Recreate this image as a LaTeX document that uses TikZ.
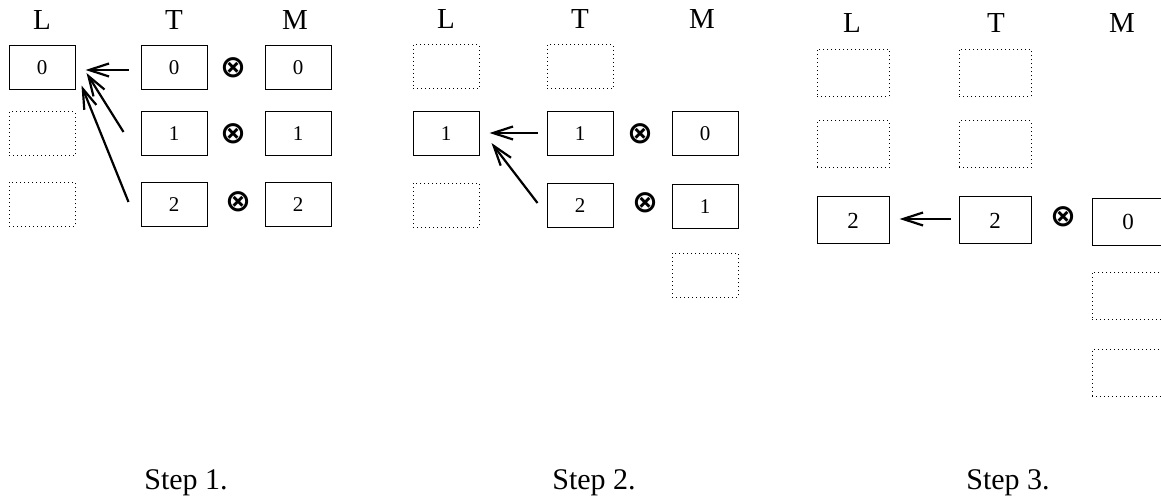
\documentclass[tikz,border=0pt]{standalone}
\usepackage{amsmath}
\usepackage{fontspec}
\setmainfont{Liberation Serif}
\newfontfamily\symfont{DejaVu Sans}
\usepackage{tikz}
\usetikzlibrary{arrows.meta}
\usetikzlibrary{positioning}

\begin{document}
\begin{tikzpicture}[x=1pt,y=1pt,>={Straight Barb[length=20pt,width=13pt]},
                    cell/.style={draw,line width=1pt,minimum width=66pt,minimum height=44pt,inner sep=0pt,font=\fontsize{21}{21}\selectfont},
                    free cell/.style={cell,dash pattern=on 1pt off 3pt},
                    big cell/.style={cell,minimum width=72pt,minimum height=47pt,font=\fontsize{23}{23}\selectfont},
                    big free cell/.style={big cell,dash pattern=on 1pt off 3pt},
                    head/.style={anchor=base,font=\fontsize{29}{29}\selectfont},
                    times/.style={font=\symfont\bfseries\fontsize{31}{31}\selectfont},
                    caption/.style={anchor=base,font=\fontsize{30}{30}\selectfont},
                    link/.style={->,line width=2.2pt}]

  \useasboundingbox (0,0) rectangle (1161,-502);

  % step 1
  \node[head] (l1) at (42,-30) {L};
  \node[head] (t1) at (174,-30) {T};
  \node[head] (m1) at (295,-30) {M};
  \node[cell] (l10) at (42,-68) {0};
  \node[free cell] (l11) [below of=l10, node distance=66pt] {};
  \node[free cell] (l12) [below of=l11, node distance=70.5pt] {};
  \node[cell] (t10) at (174,-68) {0};
  \node[cell] (t11) [below of=t10, node distance=66pt] {1};
  \node[cell] (t12) [below of=t11, node distance=70.5pt] {2};
  \node[cell] (m10) at (298,-68) {0};
  \node[cell] (m11) [below of=m10, node distance=66pt] {1};
  \node[cell] (m12) [below of=m11, node distance=70.5pt] {2};
  \node[times] (x10) at (233,-68) {⊗};
  \node[times] (x11) at (233,-134) {⊗};
  \node[times] (x12) at (238,-202) {⊗};
  \node[caption] (s1) at (186,-489) {Step 1.};

  \path ([xshift=-12pt,yshift=-2pt]t10.west) edge[link] ([xshift=10pt,yshift=-2pt]l10.east)
        ([xshift=-17pt,yshift=2pt]t11.west) edge[link] ([xshift=11pt,yshift=-5pt]l10.east)
        ([xshift=-12pt,yshift=2.5pt]t12.west) edge[link] ([xshift=6pt,yshift=5pt]l10.south east);

  % step 2
  \node[head] (l2) at (446,-29) {L};
  \node[head] (t2) at (580,-29) {T};
  \node[head] (m2) at (702,-29) {M};
  \node[free cell] (l20) at (446,-67) {};
  \node[cell] (l21) [below of=l20, node distance=67pt] {1};
  \node[free cell] (l22) [below of=l21, node distance=71.5pt] {};
  \node[free cell] (t20) at (580,-67) {};
  \node[cell] (t21) [below of=t20, node distance=67pt] {1};
  \node[cell] (t22) [below of=t21, node distance=71.5pt] {2};
  \node[cell] (m20) at (705,-134) {0};
  \node[cell] (m21) [below of=m20, node distance=72.5pt] {1};
  \node[free cell] (m22) [below of=m21, node distance=69pt] {};
  \node[times] (x20) at (640,-134) {⊗};
  \node[times] (x21) at (645,-203) {⊗};
  \node[caption] (s2) at (594,-489) {Step 2.};

  \path ([xshift=-9pt,yshift=1pt]t21.west) edge[link] ([xshift=10pt,yshift=1pt]l21.east)
        ([xshift=-9pt,yshift=2.5pt]t22.west) edge[link] ([xshift=12pt,yshift=-9pt]l21.east);

  % step 3
  \node[head] (l3) at (852,-33) {L};
  \node[head] (t3) at (996,-33) {T};
  \node[head] (m3) at (1122,-33) {M};
  \node[big free cell] (l30) at (853,-73) {};
  \node[big free cell] (l31) [below of=l30, node distance=71.5pt] {};
  \node[big cell] (l32) [below of=l31, node distance=76pt] {2};
  \node[big free cell] (t30) at (995,-73) {};
  \node[big free cell] (t31) [below of=t30, node distance=71.5pt] {};
  \node[big cell] (t32) [below of=t31, node distance=76pt] {2};
  \node[big cell] (m30) at (1128,-222) {0};
  \node[big free cell] (m31) [below of=m30, node distance=74pt] {};
  \node[big free cell] (m32) [below of=m31, node distance=77pt] {};
  \node[times] (x30) at (1063,-217) {⊗};
  \node[caption] (s3) at (1008,-489) {Step 3.};

  \path ([xshift=-8pt,yshift=1.5pt]t32.west) edge[link] ([xshift=10pt,yshift=1.5pt]l32.east);

\end{tikzpicture}
\end{document}
